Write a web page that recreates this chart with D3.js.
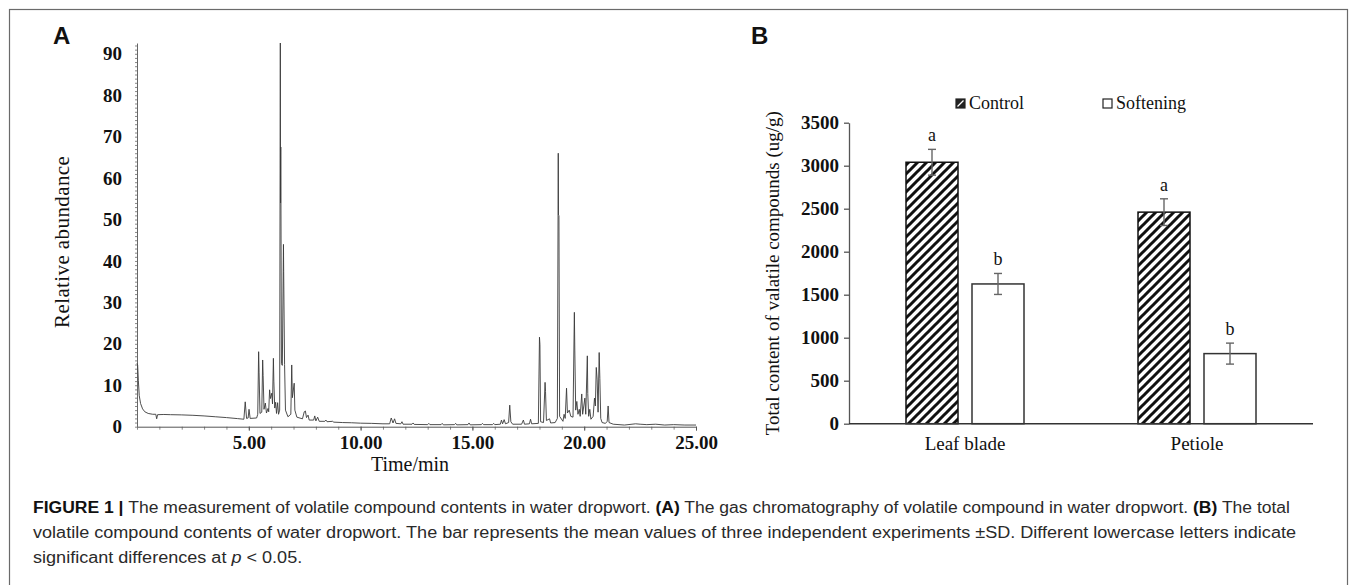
<!DOCTYPE html>
<html>
<head>
<meta charset="utf-8">
<script src="https://cdn.jsdelivr.net/npm/d3@7"></script>
<style>
  body { margin: 0; background: #fff; }
  svg { display: block; }
</style>
</head>
<body>
<svg id="fig" width="1355" height="585"></svg>
<script>
// ---- panel A: chromatogram trace, [retention time (min), relative abundance]
const rtTrace = [
  [0.00, 15.3], [0.03, 14.8], [0.06, 11.2], [0.10, 7.5], [0.16, 5.6], [0.25, 4.3], [0.35, 3.6],
  [0.50, 3.2], [0.70, 3.0], [0.84, 3.0], [0.88, 1.9], [0.92, 2.9], [1.20, 2.95], [1.50, 2.9],
  [2.00, 2.85], [2.50, 2.75], [3.00, 2.6], [3.50, 2.4], [4.00, 2.2], [4.50, 1.95], [4.78, 1.8],
  [4.84, 6.0], [4.90, 2.0], [4.97, 2.1], [5.01, 4.2], [5.06, 2.0], [5.35, 2.1], [5.40, 3.0],
  [5.44, 18.1], [5.46, 13.0], [5.50, 3.2], [5.58, 3.5], [5.62, 16.1], [5.64, 12.4], [5.68, 4.2],
  [5.74, 5.7], [5.79, 3.3], [5.86, 4.4], [5.89, 3.6], [5.93, 8.9], [5.97, 6.8], [6.03, 8.1],
  [6.06, 5.5], [6.10, 16.5], [6.12, 11.0], [6.16, 4.5], [6.20, 5.9], [6.24, 3.2], [6.29, 5.8],
  [6.33, 3.0], [6.38, 4.0], [6.41, 92.6], [6.42, 54.0], [6.43, 67.5], [6.46, 15.2], [6.50, 14.8],
  [6.55, 44.0], [6.56, 37.5], [6.60, 15.0], [6.64, 4.0], [6.75, 2.4], [6.88, 3.0], [6.92, 14.9],
  [6.95, 7.0], [7.03, 10.5], [7.06, 4.0], [7.15, 2.3], [7.40, 1.9], [7.48, 3.6], [7.53, 3.8],
  [7.58, 2.2], [7.65, 2.8], [7.70, 1.6], [7.90, 1.6], [7.95, 2.6], [8.00, 1.4], [8.08, 2.3],
  [8.15, 1.3], [8.40, 1.3], [8.45, 1.6], [8.50, 1.2], [8.75, 1.3], [8.80, 1.1], [9.20, 1.0],
  [9.60, 0.95], [10.0, 0.85], [10.5, 0.8], [11.0, 0.7], [11.3, 0.7], [11.37, 2.1], [11.45, 0.9],
  [11.52, 1.9], [11.58, 0.8], [11.80, 0.7], [11.85, 1.2], [11.90, 0.6], [12.30, 0.6], [12.35, 0.9],
  [12.40, 0.55], [13.00, 0.5], [13.05, 0.8], [13.10, 0.5], [13.60, 0.5], [13.65, 0.8], [13.70, 0.45],
  [14.20, 0.5], [14.25, 0.8], [14.30, 0.45], [14.80, 0.5], [14.85, 0.9], [14.90, 0.45], [15.40, 0.5],
  [15.45, 0.8], [15.50, 0.5], [15.90, 0.5], [15.95, 0.8], [16.00, 0.5], [16.25, 0.6], [16.30, 1.6],
  [16.35, 0.7], [16.42, 1.7], [16.48, 0.7], [16.62, 1.0], [16.67, 5.2], [16.72, 1.2], [16.80, 0.6],
  [17.20, 0.6], [17.28, 1.6], [17.33, 0.6], [17.55, 0.7], [17.60, 1.8], [17.65, 0.7], [17.95, 0.8],
  [18.00, 21.6], [18.02, 19.8], [18.05, 1.2], [18.18, 1.0], [18.25, 10.7], [18.27, 8.5], [18.31, 1.5],
  [18.45, 1.9], [18.50, 0.9], [18.70, 1.0], [18.80, 2.0], [18.84, 66.0], [18.85, 51.1], [18.87, 51.0],
  [18.90, 2.5], [19.05, 1.3], [19.10, 3.0], [19.15, 2.0], [19.21, 9.3], [19.25, 3.3], [19.33, 4.0],
  [19.40, 2.5], [19.50, 2.3], [19.56, 27.6], [19.58, 18.5], [19.62, 4.0], [19.67, 6.1], [19.72, 3.0],
  [19.78, 4.2], [19.82, 2.5], [19.89, 7.9], [19.93, 3.0], [20.03, 6.9], [20.07, 3.0], [20.14, 17.1],
  [20.16, 8.0], [20.20, 2.5], [20.25, 4.2], [20.30, 1.8], [20.40, 2.5], [20.46, 6.9], [20.50, 5.0],
  [20.54, 14.3], [20.58, 11.3], [20.62, 3.5], [20.67, 17.9], [20.70, 11.7], [20.74, 2.0], [20.80, 1.0],
  [20.95, 0.8], [21.03, 1.3], [21.07, 5.0], [21.11, 1.0], [21.30, 0.6], [21.80, 0.4], [22.30, 0.7],
  [22.50, 0.6], [22.80, 0.5], [23.20, 0.6], [23.60, 0.4], [24.00, 0.5], [24.50, 0.4], [25.00, 0.4]
];
const timeTicks = [5, 10, 15, 20, 25];
const abundanceTicks = [0, 10, 20, 30, 40, 50, 60, 70, 80, 90];

// ---- panel B: total volatile content (ug/g)
const parts = ["Leaf blade", "Petiole"];
const treatments = ["Control", "Softening"];
const controlMean = [3040, 2460];
const controlSD = [150, 155];
const softeningMean = [1625, 815];
const softeningSD = [122, 122];
const controlLetters = ["a", "a"];
const softeningLetters = ["b", "b"];
const contentTicks = [0, 500, 1000, 1500, 2000, 2500, 3000, 3500];

const captionLines = [
  [{t: "FIGURE 1", b: true}, {t: " | ", b: true}, {t: "The measurement of volatile compound contents in water dropwort. "},
   {t: "(A)", b: true}, {t: " The gas chromatography of volatile compound in water dropwort. "}, {t: "(B)", b: true}, {t: " The total"}],
  [{t: "volatile compound contents of water dropwort. The bar represents the mean values of three independent experiments \u00B1SD. Different lowercase letters indicate"}],
  [{t: "significant differences at "}, {t: "p", i: true}, {t: " < 0.05."}]
];

const serif = "'Liberation Serif', 'Times New Roman', serif";
const sans = "'Liberation Sans', Arial, sans-serif";

const svg = d3.select("#fig");

// outer frame
svg.append("rect")
  .attr("x", 9.5).attr("y", 9.5)
  .attr("width", 1338).attr("height", 620)
  .attr("fill", "none").attr("stroke", "#6a6a6a").attr("stroke-width", 1.2);

// ================= Panel A =================
const xA = d3.scaleLinear().domain([0, 25]).range([137, 696]);
const yA = d3.scaleLinear().domain([0, 92.6]).range([426.7, 43]);

const gA = svg.append("g");

// minor ticks on the y axis (dotted look)
gA.append("g")
  .attr("transform", `translate(${xA(0)},0)`)
  .call(d3.axisLeft(yA).ticks(90).tickSize(2).tickFormat(""))
  .call(g => g.select(".domain").remove())
  .selectAll("line").attr("stroke", "#888");

const yAxisA = gA.append("g")
  .attr("transform", `translate(${xA(0)},0)`)
  .call(d3.axisLeft(yA).tickValues(abundanceTicks).tickSize(0).tickPadding(15).tickSizeOuter(0));
yAxisA.select(".domain").attr("stroke", "#666");
yAxisA.selectAll("text")
  .attr("font-family", serif).attr("font-size", 19).attr("font-weight", "bold").attr("fill", "#111");

// minor x ticks
gA.append("g")
  .attr("transform", `translate(0,${yA(0)})`)
  .call(d3.axisBottom(xA).ticks(25).tickSize(3).tickFormat(""))
  .call(g => g.select(".domain").remove())
  .selectAll("line").attr("stroke", "#888");

const xAxisA = gA.append("g")
  .attr("transform", `translate(0,${yA(0)})`)
  .call(d3.axisBottom(xA).tickValues(timeTicks).tickFormat(d3.format(".2f")).tickSize(4).tickPadding(5).tickSizeOuter(0));
xAxisA.select(".domain").attr("stroke", "#555");
xAxisA.selectAll("line").attr("stroke", "#555");
xAxisA.selectAll("text")
  .attr("font-family", serif).attr("font-size", 19).attr("font-weight", "bold").attr("fill", "#111");

const traceLine = d3.line().x(d => xA(d[0])).y(d => yA(d[1]));
gA.append("path")
  .datum(rtTrace)
  .attr("d", traceLine)
  .attr("fill", "none")
  .attr("stroke", "#3a3a3a")
  .attr("stroke-width", 0.9)
  .attr("stroke-linejoin", "miter");

gA.append("text")
  .attr("transform", `translate(69,${(yA(0) + yA(92.6)) / 2 + 7}) rotate(-90)`)
  .attr("text-anchor", "middle")
  .attr("font-family", serif).attr("font-size", 21).attr("fill", "#111")
  .attr("letter-spacing", 0.4)
  .text("Relative abundance");

gA.append("text")
  .attr("x", 410).attr("y", 471)
  .attr("text-anchor", "middle")
  .attr("font-family", serif).attr("font-size", 20).attr("fill", "#111")
  .text("Time/min");

svg.append("text")
  .attr("x", 53).attr("y", 44)
  .attr("font-family", sans).attr("font-size", 24).attr("font-weight", "bold").attr("fill", "#111")
  .text("A");

// ================= Panel B =================
const xB = d3.scaleBand().domain(parts).range([849, 1313]);
const xT = d3.scaleBand().domain(treatments).range([0, 118]).paddingInner(14 / 66);
const yB = d3.scaleLinear().domain([0, 3500]).range([423.7, 122.7]);

const defs = svg.append("defs");
const pat = defs.append("pattern")
  .attr("id", "hatch")
  .attr("patternUnits", "userSpaceOnUse")
  .attr("width", 9).attr("height", 9);
pat.append("rect").attr("width", 9).attr("height", 9).attr("fill", "#fff");
pat.append("path")
  .attr("d", "M-2,2 L2,-2 M0,9 L9,0 M7,11 L11,7")
  .attr("stroke", "#111").attr("stroke-width", 3);

const gB = svg.append("g");

const yAxisB = gB.append("g")
  .attr("transform", `translate(${xB.range()[0]},0)`)
  .call(d3.axisLeft(yB).tickValues(contentTicks).tickFormat(d3.format("d")).tickSize(5).tickPadding(5).tickSizeOuter(0));
yAxisB.select(".domain").attr("stroke", "#555").attr("stroke-width", 1.3);
yAxisB.selectAll("line").attr("stroke", "#555").attr("stroke-width", 1.3);
yAxisB.selectAll("text")
  .attr("font-family", serif).attr("font-size", 19).attr("font-weight", "bold").attr("fill", "#111");

const series = [
  {name: "Control", mean: controlMean, sd: controlSD, letters: controlLetters, fill: "url(#hatch)", stroke: "#111"},
  {name: "Softening", mean: softeningMean, sd: softeningSD, letters: softeningLetters, fill: "#fff", stroke: "#333"}
];

const groupOffset = (xB.bandwidth() - xT.range()[1]) / 2;

series.forEach(s => {
  const rows = parts.map((p, i) => ({part: p, mean: s.mean[i], sd: s.sd[i], letter: s.letters[i]}));
  const bx = d => xB(d.part) + groupOffset + xT(s.name);
  const cx = d => bx(d) + xT.bandwidth() / 2;

  gB.selectAll(null).data(rows).enter().append("rect")
    .attr("x", bx)
    .attr("y", d => yB(d.mean))
    .attr("width", xT.bandwidth())
    .attr("height", d => yB(0) - yB(d.mean))
    .attr("fill", s.fill)
    .attr("stroke", s.stroke)
    .attr("stroke-width", 1.5);

  const eb = gB.selectAll(null).data(rows).enter().append("g")
    .attr("stroke", "#666").attr("stroke-width", 1.4);
  eb.append("line")
    .attr("x1", cx).attr("x2", cx)
    .attr("y1", d => yB(d.mean + d.sd)).attr("y2", d => yB(d.mean - d.sd));
  eb.append("line")
    .attr("x1", d => cx(d) - 4).attr("x2", d => cx(d) + 4)
    .attr("y1", d => yB(d.mean + d.sd)).attr("y2", d => yB(d.mean + d.sd));
  eb.append("line")
    .attr("x1", d => cx(d) - 4).attr("x2", d => cx(d) + 4)
    .attr("y1", d => yB(d.mean - d.sd)).attr("y2", d => yB(d.mean - d.sd));

  gB.selectAll(null).data(rows).enter().append("text")
    .attr("x", cx)
    .attr("y", d => yB(d.mean + d.sd) - 8)
    .attr("text-anchor", "middle")
    .attr("font-family", serif).attr("font-size", 18).attr("fill", "#111")
    .text(d => d.letter);
});

// x axis line (no ticks)
gB.append("line")
  .attr("x1", xB.range()[0]).attr("x2", xB.range()[1])
  .attr("y1", yB(0)).attr("y2", yB(0))
  .attr("stroke", "#333").attr("stroke-width", 1.4);

gB.selectAll(".cat").data(parts).enter().append("text")
  .attr("x", d => xB(d) + xB.bandwidth() / 2)
  .attr("y", 450)
  .attr("text-anchor", "middle")
  .attr("font-family", serif).attr("font-size", 19).attr("fill", "#111")
  .text(d => d);

gB.append("text")
  .attr("transform", `translate(779,${(yB(0) + yB(3500)) / 2}) rotate(-90)`)
  .attr("text-anchor", "middle")
  .attr("font-family", serif).attr("font-size", 19).attr("fill", "#111")
  .text("Total content of valatile compounds (ug/g)");

// legend
const legendX = [956, 1103];
treatments.forEach((t, i) => {
  const lg = gB.append("g").attr("transform", `translate(${legendX[i]},99)`);
  lg.append("rect").attr("width", 9).attr("height", 9)
    .attr("fill", i === 0 ? "#222" : "#fff").attr("stroke", "#222").attr("stroke-width", 1.2);
  if (i === 0) {
    lg.append("line").attr("x1", 1.5).attr("y1", 7.5).attr("x2", 7.5).attr("y2", 1.5)
      .attr("stroke", "#fff").attr("stroke-width", 1.2);
  }
  lg.append("text").attr("x", 13).attr("y", 10)
    .attr("font-family", serif).attr("font-size", 18).attr("fill", "#111")
    .text(t);
});

svg.append("text")
  .attr("x", 751).attr("y", 44)
  .attr("font-family", sans).attr("font-size", 24).attr("font-weight", "bold").attr("fill", "#111")
  .text("B");

// ================= Caption =================
const capY = [513, 538, 563];
const capWidth = [1257, 1263];
const capNodes = captionLines.map((line, li) => {
  const t = svg.append("text")
    .attr("x", 33).attr("y", capY[li])
    .attr("font-family", sans).attr("font-size", 16).attr("fill", "#2a2a2a");
  line.forEach(seg => {
    t.append("tspan")
      .attr("font-weight", seg.b ? "bold" : null)
      .attr("font-style", seg.i ? "italic" : null)
      .attr("fill", seg.b ? "#111" : null)
      .text(seg.t);
  });
  return t;
});
const natural = capNodes.map(t => t.node().getComputedTextLength());
const ratio = capWidth[1] / natural[1];
capNodes.forEach((t, i) => {
  const w = i < 2 ? capWidth[i] : natural[i] * ratio;
  t.attr("textLength", w).attr("lengthAdjust", "spacingAndGlyphs");
});
</script>
</body>
</html>
